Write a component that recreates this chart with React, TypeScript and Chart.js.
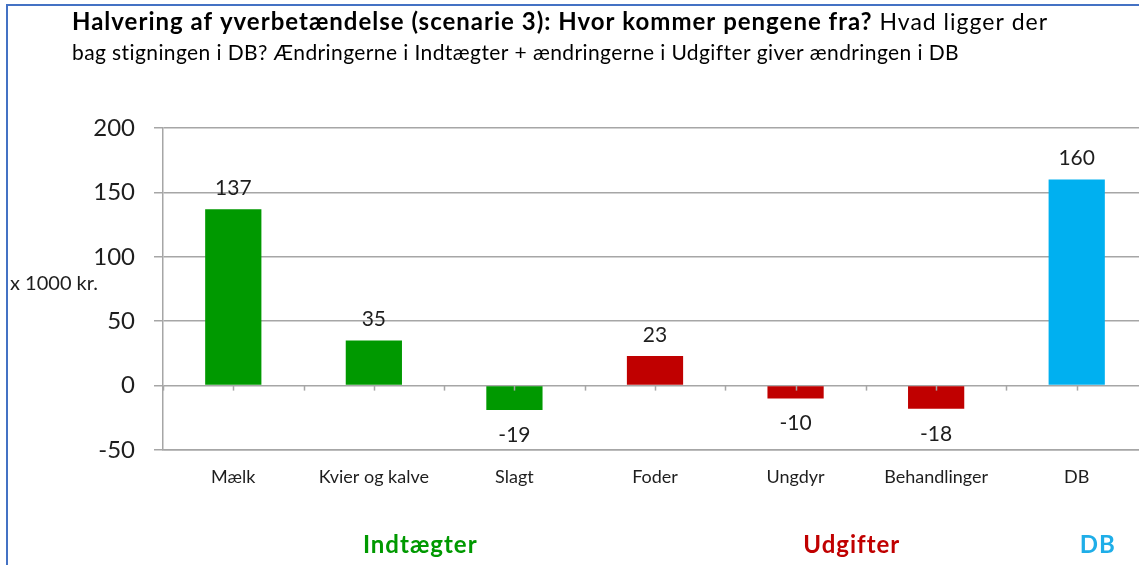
import React, { useEffect, useRef } from "react";
import { Chart, registerables } from "chart.js";

Chart.register(...registerables);

const categories = ["Mælk", "Kvier og kalve", "Slagt", "Foder", "Ungdyr", "Behandlinger", "DB"];
const values = [137, 35, -19, 23, -10, -18, 160];
const barColors = ["#009900", "#009900", "#009900", "#C00000", "#C00000", "#C00000", "#00B0F0"];
const yMin = -50;
const yMax = 200;
const yStep = 50;
const groupLabels = ["Indtægter", "Udgifter", "DB"];
const groupPositions = [1.33, 4.4, 6.15];
const groupColors = ["#009900", "#C00000", "#1FAEE8"];
const titleBold = "Halvering af yverbetændelse (scenarie 3): Hvor kommer pengene fra?";
const titleRest1 = " Hvad ligger der";
const titleLine2 = "bag stigningen i DB? Ændringerne i Indtægter + ændringerne i Udgifter giver ændringen i DB";
const yAxisLabel = "x 1000 kr.";

const FONT = "Lato, 'Open Sans', sans-serif";
const TEXT = "#1e1e1e";
const GRID = "#a6a6a6";

const overlayPlugin = {
  id: "overlay",
  afterDraw(chart: any) {
    const ctx = chart.ctx;
    const xs = chart.scales.x;
    const ys = chart.scales.y;
    ctx.save();

    // zero line tick marks
    const y0 = ys.getPixelForValue(0);
    const x0 = xs.getPixelForValue(0);
    const step = xs.getPixelForValue(1) - x0;
    ctx.strokeStyle = GRID;
    ctx.lineWidth = 1.5;
    for (let i = 0; i <= categories.length * 2; i++) {
      const x = Math.round(x0 - step / 2 + (i * step) / 2) + 0.5;
      ctx.beginPath();
      ctx.moveTo(x, y0);
      ctx.lineTo(x, y0 + 5);
      ctx.stroke();
    }

    // data labels
    const meta = chart.getDatasetMeta(0);
    ctx.font = `21px ${FONT}`;
    ctx.fillStyle = TEXT;
    ctx.textAlign = "center";
    ctx.textBaseline = "middle";
    meta.data.forEach((bar: any, i: number) => {
      const v = values[i];
      const y = v >= 0 ? bar.y - 21 : bar.y + 25;
      ctx.fillText(String(v), bar.x, y);
    });

    // y axis label
    ctx.font = `20px ${FONT}`;
    ctx.textAlign = "left";
    ctx.fillText(yAxisLabel, 10, 284);

    // group labels
    ctx.font = `bold 24px ${FONT}`;
    ctx.letterSpacing = "1px";
    ctx.textAlign = "center";
    groupLabels.forEach((g, i) => {
      ctx.fillStyle = groupColors[i];
      ctx.fillText(g, x0 + groupPositions[i] * step, 545);
    });

    // title
    ctx.textAlign = "left";
    ctx.textBaseline = "alphabetic";
    ctx.fillStyle = "#000";
    ctx.font = `bold 24px ${FONT}`;
    ctx.letterSpacing = "1px";
    ctx.fillText(titleBold, 72, 30);
    const w = ctx.measureText(titleBold).width;
    ctx.font = `23px ${FONT}`;
    ctx.letterSpacing = "1px";
    ctx.fillText(titleRest1, 72 + w, 30);
    ctx.font = `21px ${FONT}`;
    ctx.letterSpacing = "0.4px";
    ctx.fillText(titleLine2, 72, 60);
    ctx.letterSpacing = "0px";

    ctx.restore();
  },
};

export default function App() {
  const canvasRef = useRef<HTMLCanvasElement | null>(null);

  useEffect(() => {
    const canvas = canvasRef.current;
    if (!canvas) return;
    const chart = new Chart(canvas, {
      type: "bar",
      data: {
        labels: categories,
        datasets: [
          {
            data: values,
            backgroundColor: barColors,
            borderWidth: 0,
            barPercentage: 0.4,
            categoryPercentage: 1,
          },
        ],
      },
      options: {
        responsive: false,
        animation: false,
        devicePixelRatio: 1,
        layout: { padding: { top: 128, right: 33, left: 0, bottom: 0 } },
        plugins: {
          legend: { display: false },
          tooltip: { enabled: false },
          title: { display: false },
        },
        scales: {
          x: {
            afterFit: (s: any) => {
              s.height = 115;
            },
            grid: { display: false, drawTicks: false },
            border: { display: true, color: GRID, width: 1.5 },
            ticks: {
              padding: 16,
              color: TEXT,
              font: { family: FONT, size: 18 },
              maxRotation: 0,
              autoSkip: false,
            },
          },
          y: {
            min: yMin,
            max: yMax,
            afterFit: (s: any) => {
              s.width = 163;
            },
            grid: { color: GRID, lineWidth: 1.5, tickLength: 9, drawTicks: true },
            border: { display: true, color: GRID, width: 1.5 },
            ticks: {
              stepSize: yStep,
              padding: 19,
              color: TEXT,
              font: { family: FONT, size: 24 },
            },
          },
        },
      },
      plugins: [overlayPlugin],
    });
    return () => chart.destroy();
  }, []);

  return (
    <div
      style={{
        position: "fixed",
        left: 0,
        top: 0,
        width: 1139,
        height: 565,
        overflow: "hidden",
        background: "#fff",
      }}
    >
      <canvas ref={canvasRef} width={1180} height={565} style={{ position: "absolute", left: 0, top: 0 }} />
      <div
        style={{
          position: "absolute",
          left: 6,
          top: 4,
          width: 1300,
          height: 700,
          borderTop: "2px solid #4472C4",
          borderLeft: "2px solid #4472C4",
          pointerEvents: "none",
        }}
      />
    </div>
  );
}
